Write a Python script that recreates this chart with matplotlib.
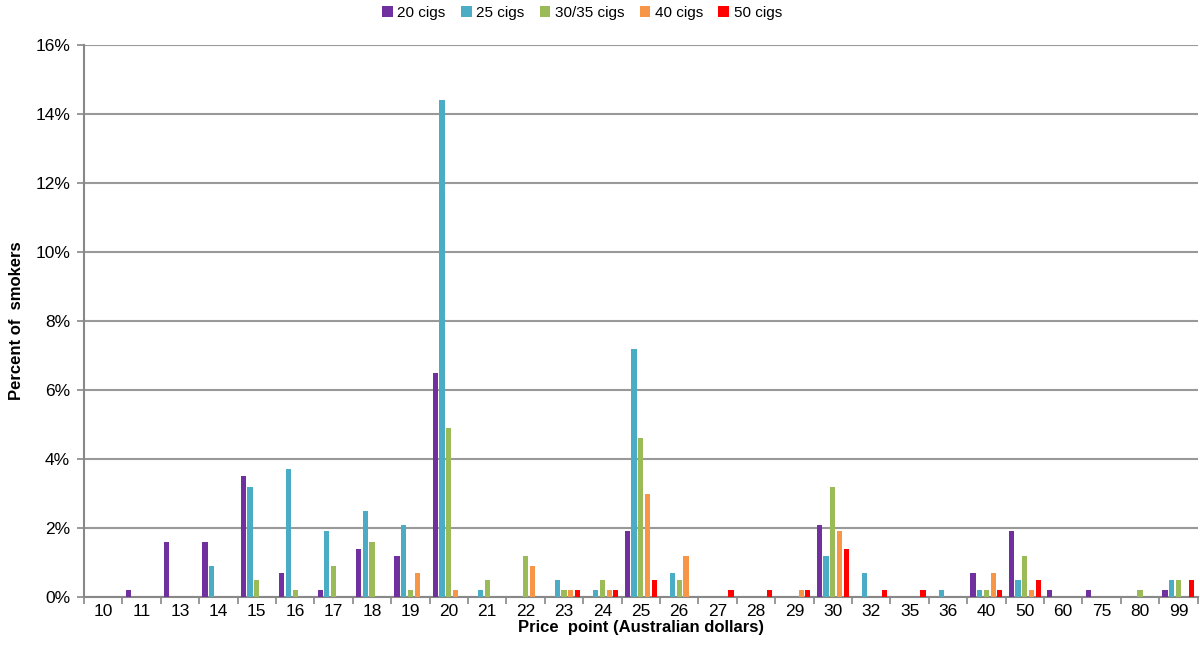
import matplotlib
matplotlib.use("Agg")
import matplotlib.pyplot as plt
import numpy as np
from matplotlib.ticker import FuncFormatter, FixedLocator

plt.rcParams["font.family"] = ["Liberation Sans", "DejaVu Sans"]

price_points = ["10", "11", "13", "14", "15", "16", "17", "18", "19", "20",
                "21", "22", "23", "24", "25", "26", "27", "28", "29", "30",
                "32", "35", "36", "40", "50", "60", "75", "80", "99"]

# percent of smokers per pack size
cigs_20 = [0, 0.2, 1.6, 1.6, 3.5, 0.7, 0.2, 1.4, 1.2, 6.5,
           0, 0, 0, 0, 1.9, 0, 0, 0, 0, 2.1,
           0, 0, 0, 0.7, 1.9, 0.2, 0.2, 0, 0.2]
cigs_25 = [0, 0, 0, 0.9, 3.2, 3.7, 1.9, 2.5, 2.1, 14.4,
           0.2, 0, 0.5, 0.2, 7.2, 0.7, 0, 0, 0, 1.2,
           0.7, 0, 0.2, 0.2, 0.5, 0, 0, 0, 0.5]
cigs_30_35 = [0, 0, 0, 0, 0.5, 0.2, 0.9, 1.6, 0.2, 4.9,
              0.5, 1.2, 0.2, 0.5, 4.6, 0.5, 0, 0, 0, 3.2,
              0, 0, 0, 0.2, 1.2, 0, 0, 0.2, 0.5]
cigs_40 = [0, 0, 0, 0, 0, 0, 0, 0, 0.7, 0.2,
           0, 0.9, 0.2, 0.2, 3.0, 1.2, 0, 0, 0.2, 1.9,
           0, 0, 0, 0.7, 0.2, 0, 0, 0, 0]
cigs_50 = [0, 0, 0, 0, 0, 0, 0, 0, 0, 0,
           0, 0, 0.2, 0.2, 0.5, 0, 0.2, 0.2, 0.2, 1.4,
           0.2, 0.2, 0, 0.2, 0.5, 0, 0, 0, 0.5]

series = [
    ("20 cigs", cigs_20, "#7030A0"),
    ("25 cigs", cigs_25, "#4BACC6"),
    ("30/35 cigs", cigs_30_35, "#9BBB59"),
    ("40 cigs", cigs_40, "#F79646"),
    ("50 cigs", cigs_50, "#FF0000"),
]

fig = plt.figure(figsize=(12, 6.56), dpi=100)
ax = fig.add_axes([0.07, 0.09, 0.928, 0.841])

x = np.arange(len(price_points))
slot = 0.175
for i, (name, vals, color) in enumerate(series):
    ax.bar(x + (i - 2) * slot, vals, width=0.135, color=color, label=name, zorder=3)

ax.set_xlim(-0.5, len(price_points) - 0.5)
ax.set_ylim(0, 16)
ax.set_yticks(np.arange(0, 17, 2))
ax.yaxis.set_major_formatter(FuncFormatter(lambda v, _: f"{v:.0f}%"))
ax.grid(axis="y", color="#999999", linewidth=1.5, zorder=0)

ax.set_xticks(x)
ax.set_xticklabels(price_points)
ax.xaxis.set_minor_locator(FixedLocator(np.arange(-0.5, len(price_points), 1)))
ax.tick_params(axis="x", which="major", length=0, labelsize=12.5, pad=5)
ax.tick_params(axis="x", which="minor", length=5, color="#888888", width=1.2)
ax.tick_params(axis="y", length=5, color="#888888", width=1.2, labelsize=12.5,
               direction="out", pad=5)

for side in ["top", "right"]:
    ax.spines[side].set_visible(False)
for side in ["left", "bottom"]:
    ax.spines[side].set_color("#888888")
    ax.spines[side].set_linewidth(1.5)

ax.set_xlabel("Price  point (Australian dollars)", fontsize=12, fontweight="bold", labelpad=1)
ax.set_ylabel("Percent of  smokers", fontsize=12, fontweight="bold", labelpad=8)

fig.legend(loc="upper center", bbox_to_anchor=(0.485, 1.012), ncol=5, frameon=False,
           fontsize=11, handlelength=0.7, handleheight=0.7, handletextpad=0.3,
           columnspacing=1.0)

plt.savefig("out.png", dpi=100)
plt.close()
